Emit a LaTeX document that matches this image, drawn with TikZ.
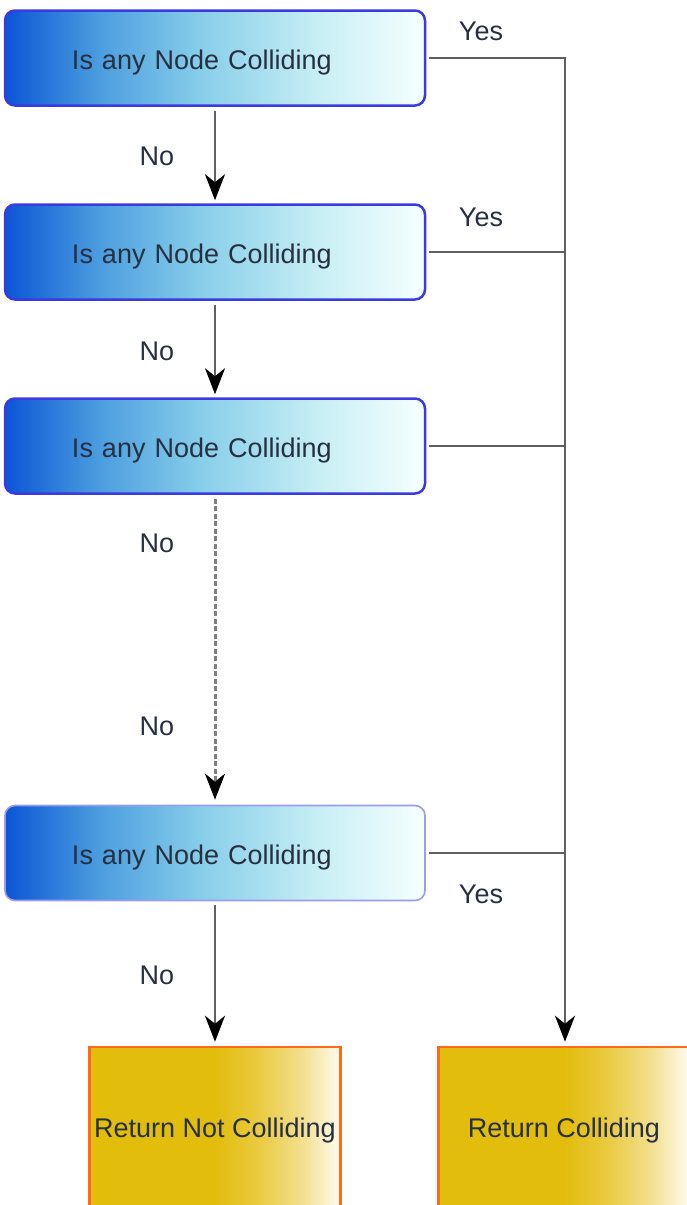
\documentclass[tikz,border=0pt]{standalone}
\usepackage{fontspec}
\setmainfont{Liberation Sans}
\usetikzlibrary{arrows.meta}
\definecolor{bA}{HTML}{0B55D6}
\definecolor{bB}{HTML}{4A9CDF}
\definecolor{bC}{HTML}{86CDEA}
\definecolor{bD}{HTML}{C6EEF4}
\definecolor{bE}{HTML}{F6FFFF}
\definecolor{yA}{HTML}{E2BD0C}
\definecolor{yB}{HTML}{E9C93C}
\definecolor{yC}{HTML}{F2DE8A}
\definecolor{yD}{HTML}{FFFCF0}
\definecolor{bordblue}{HTML}{3A3AE0}
\definecolor{bordlight}{HTML}{9C9CEE}
\definecolor{bordorange}{HTML}{FF6A1A}
\definecolor{txt}{HTML}{263040}
\definecolor{wire}{HTML}{606060}
\definecolor{dwire}{HTML}{808080}
\pgfdeclarehorizontalshading{blueshade}{100bp}{color(0bp)=(bA); color(25bp)=(bA); color(36bp)=(bB); color(48bp)=(bC); color(62bp)=(bD); color(75bp)=(bE); color(100bp)=(bE)}
\pgfdeclarehorizontalshading{yelshade}{100bp}{color(0bp)=(yA); color(25bp)=(yA); color(50bp)=(yA); color(58bp)=(yB); color(67bp)=(yC); color(75bp)=(yD); color(100bp)=(yD)}
\begin{document}
\begin{tikzpicture}[x=1pt,y=-1pt,
  every node/.style={font=\fontsize{27}{32}\selectfont, text=txt},
  testbox/.style={draw=bordblue, line width=2.5pt, rounded corners=10pt,
    shading=blueshade, minimum width=420pt, minimum height=95pt,
    inner sep=0pt, text width=418pt, align=left,
    text height=23pt, text depth=0pt},
  testlight/.style={testbox, draw=bordlight, line width=1.6pt},
  resbox/.style={draw=bordorange, line width=2.5pt, shading=yelshade,
    minimum width=251pt, minimum height=162pt, inner sep=0pt,
    text height=19.3pt, text depth=0pt},
  lbl/.style={inner sep=0pt, text height=19.3pt, text depth=0pt},
  flow/.style={draw=wire, line width=2.5pt, -{Stealth[length=26pt, width=20pt, inset=8pt, black]}},
  dflow/.style={flow, draw=dwire, line width=3pt, dash pattern=on 5pt off 2.5pt},
  wireline/.style={draw=wire, line width=2.5pt}
]
\useasboundingbox (0,0) rectangle (687,1205);

\node[testbox] (t1) at (215,58) {\hspace*{66pt}Is any Node Colliding};
\node[testbox] (t2) at (215,252) {\hspace*{66pt}Is any Node Colliding};
\node[testbox] (t3) at (215,446) {\hspace*{66pt}Is any Node Colliding};
\node[testlight] (t4) at (215,853) {\hspace*{66pt}Is any Node Colliding};
\node[resbox] (r1) at (215,1128) {Return Not Colliding};
\node[resbox] (r2) at (564,1128) {Return Colliding};

\coordinate (bus) at (565,58);

\path[flow, shorten <=4pt, shorten >=3pt] (t1) -- (t2);
\path[flow, shorten <=4pt, shorten >=3pt] (t2) -- (t3);
\path[dflow, shorten <=4pt, shorten >=5pt] (t3) -- (t4);
\path[flow, shorten <=4pt, shorten >=4pt] (t4) -- (r1);

\path[flow, shorten <=3pt, shorten >=4pt] (t1.east) -- (bus) -- (r2.north -| bus);
\path[wireline, shorten <=3pt] (t2.east) -- (t2.east -| bus);
\path[wireline, shorten <=3pt] (t3.east) -- (t3.east -| bus);
\path[wireline, shorten <=3pt] (t4.east) -- (t4.east -| bus);

\node[lbl] (no1) at (157,156) {No};
\node[lbl] (no2) at (157,351) {No};
\node[lbl] (no3) at (157,543) {No};
\node[lbl] (no4) at (157,726) {No};
\node[lbl] (no5) at (157,975) {No};
\node[lbl] (yes1) at (481,31) {Yes};
\node[lbl] (yes2) at (481,217) {Yes};
\node[lbl] (yes4) at (481,894) {Yes};
\end{tikzpicture}
\end{document}
